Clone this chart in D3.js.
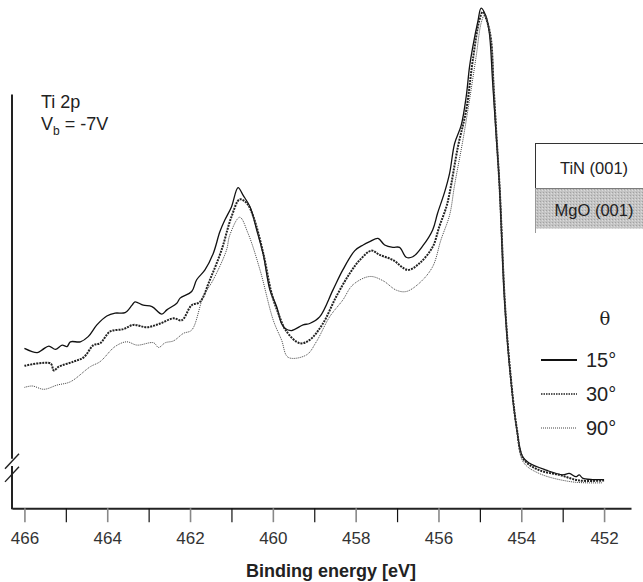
<!DOCTYPE html>
<html>
<head>
<meta charset="utf-8">
<script src="https://cdn.jsdelivr.net/npm/d3@7"></script>
<style>
  body { margin: 0; background: #fff; }
  svg { font-family: "Liberation Sans", Arial, sans-serif; }
</style>
</head>
<body>
<div id="chart"></div>
<script>
// Ti 2p XPS spectra, TiN(001) on MgO(001), Vb = -7V, three take-off angles

// binding energy [eV] and intensity (arb. units)
var energy15 = [466.0, 465.69, 465.57, 465.41, 465.25, 465.09, 464.97, 464.89, 464.65, 464.46, 464.25, 464.01, 463.81, 463.57, 463.40, 463.33, 463.13, 462.92, 462.68, 462.56, 462.32, 462.24, 461.96, 461.84, 461.64, 461.44, 461.28, 461.16, 461.00, 460.84, 460.72, 460.55, 460.39, 460.23, 460.07, 459.91, 459.79, 459.71, 459.55, 459.27, 459.11, 458.87, 458.55, 458.31, 458.02, 457.82, 457.66, 457.46, 457.30, 457.10, 456.94, 456.78, 456.62, 456.38, 456.14, 456.02, 455.85, 455.73, 455.61, 455.45, 455.33, 455.25, 455.17, 455.05, 454.97, 454.85, 454.77, 454.69, 454.61, 454.53, 454.41, 454.29, 454.13, 453.97, 453.81, 453.40, 453.00, 452.84, 452.68, 452.60, 452.52, 452.28, 452.0];
var int15 = [28.0, 27.1, 27.7, 28.5, 27.8, 28.7, 28.4, 29.4, 29.4, 30.5, 33.0, 34.9, 35.5, 35.6, 37.2, 37.9, 37.2, 36.9, 35.3, 36.2, 37.6, 38.7, 40.1, 42.6, 44.7, 48.2, 52.8, 55.3, 58.1, 62.2, 60.6, 58.1, 53.2, 47.9, 40.4, 36.9, 33.3, 32.3, 31.8, 33.0, 33.3, 34.7, 40.4, 44.7, 48.8, 50.0, 50.7, 51.4, 50.0, 49.5, 49.5, 47.4, 47.5, 49.8, 53.2, 56.8, 61.3, 65.3, 71.6, 75.5, 81.6, 87.9, 92.2, 97.5, 100.4, 98.6, 95.0, 84.4, 73.8, 63.1, 39.0, 24.8, 12.1, 5.0, 3.6, 2.1, 1.1, 1.4, 0.7, 1.1, 0.4, 0.1, 0.1];

var energy30 = [466.0, 465.37, 465.29, 465.17, 464.81, 464.57, 464.33, 464.17, 463.93, 463.61, 463.37, 463.04, 462.72, 462.40, 462.20, 461.96, 461.76, 461.52, 461.24, 461.00, 460.80, 460.63, 460.47, 460.23, 460.03, 459.87, 459.67, 459.35, 459.11, 458.79, 458.47, 458.14, 457.90, 457.62, 457.42, 457.10, 456.74, 456.46, 456.14, 455.98, 455.81, 455.73, 455.53, 455.33, 455.17, 455.01, 454.93, 454.82, 454.73, 454.67, 454.60, 454.52, 454.40, 454.28, 454.11, 453.95, 453.57, 453.08, 452.60, 452.0];
var int30 = [24.3, 24.8, 23.3, 24.1, 25.2, 26.1, 28.7, 29.1, 31.6, 32.1, 33.0, 32.5, 33.3, 34.4, 34.0, 37.2, 37.9, 42.6, 48.9, 56.0, 59.7, 58.9, 56.0, 48.2, 39.7, 35.5, 31.6, 29.1, 29.8, 33.3, 39.0, 44.0, 46.8, 48.8, 47.9, 46.8, 44.7, 46.1, 49.6, 53.9, 58.1, 61.1, 70.9, 78.7, 89.4, 97.9, 99.6, 97.4, 93.6, 84.0, 73.4, 61.7, 38.3, 24.3, 11.1, 4.5, 2.1, 1.1, -0.1, -0.1];

var energy90 = [466.0, 465.81, 465.53, 465.21, 464.89, 464.41, 464.17, 463.81, 463.53, 463.28, 462.88, 462.76, 462.60, 462.40, 462.16, 461.96, 461.68, 461.44, 461.12, 461.04, 460.80, 460.60, 460.31, 459.99, 459.79, 459.63, 459.19, 458.95, 458.63, 458.31, 458.07, 457.66, 457.34, 457.02, 456.78, 456.46, 456.14, 455.94, 455.73, 455.61, 455.41, 455.25, 455.09, 454.97, 454.89, 454.80, 454.72, 454.66, 454.59, 454.51, 454.39, 454.27, 454.10, 453.95, 453.57, 452.77, 452.05];
var int90 = [19.7, 20.0, 19.3, 20.2, 20.9, 24.1, 25.2, 28.4, 29.4, 28.7, 29.2, 28.2, 29.2, 29.6, 31.2, 31.9, 39.0, 42.6, 48.9, 52.1, 55.9, 52.5, 44.7, 34.0, 29.8, 26.1, 26.6, 29.4, 34.7, 38.3, 41.5, 43.3, 42.4, 40.4, 40.1, 41.9, 45.4, 51.1, 56.4, 62.8, 72.3, 80.9, 90.1, 97.2, 98.9, 96.8, 92.6, 83.4, 72.8, 61.1, 37.7, 23.4, 10.2, 3.8, 1.4, -0.4, -0.6];

var majorTicks = [466, 464, 462, 460, 458, 456, 454, 452];
var minorTicks = [465, 463, 461, 459, 457, 455, 453];
var angleLabels = ["15\u00b0", "30\u00b0", "90\u00b0"];
var layerLabels = ["TiN (001)", "MgO (001)"];

var series = [
  {e: energy15, v: int15, dash: null, w: 1.3, col: "#111", lw: 2, ldash: null},
  {e: energy30, v: int30, dash: "2,1", w: 2, col: "#222", lw: 1.4, ldash: "1.5,1"},
  {e: energy90, v: int90, dash: "1,1", w: 1, col: "#444", lw: 1, ldash: "1,1"}
];

var width = 643, height = 582;

var svg = d3.select("#chart").append("svg")
    .attr("width", width)
    .attr("height", height);

var x = d3.scaleLinear()
    .domain([466.3, 451.35])
    .range([12, 631]);

var y = d3.scaleLinear()
    .domain([0, 100])
    .range([480, 10]);

// x axis: gray labelled ticks every 2 eV, black ones in between
var xMajor = svg.append("g")
    .attr("transform", "translate(0," + y(-6) + ")")
    .call(d3.axisBottom(x).tickValues(majorTicks).tickSize(14).tickSizeOuter(0).tickPadding(10));
xMajor.select(".domain").attr("stroke", "#222").attr("stroke-width", 2);
xMajor.selectAll(".tick line").attr("stroke", "#888").attr("stroke-width", 1.6);
xMajor.selectAll(".tick text")
    .attr("fill", "#333")
    .style("font-size", "17px")
    .style("font-family", "Liberation Sans, Arial, sans-serif");

var xMinor = svg.append("g")
    .attr("transform", "translate(0," + y(-6) + ")")
    .call(d3.axisBottom(x).tickValues(minorTicks).tickSize(14).tickFormat(""));
xMinor.select(".domain").remove();
xMinor.selectAll(".tick line").attr("stroke", "#111").attr("stroke-width", 1.2);

svg.append("text")
    .attr("x", 331)
    .attr("y", 577)
    .attr("text-anchor", "middle")
    .style("font-weight", "bold")
    .style("font-size", "18px")
    .attr("fill", "#222")
    .text("Binding energy [eV]");

// y axis with break
var yAxis = svg.append("g").attr("stroke", "#222").attr("stroke-width", 2);
yAxis.append("line")
    .attr("x1", x(466.3)).attr("x2", x(466.3))
    .attr("y1", y(82)).attr("y2", y(4.5));
yAxis.append("line")
    .attr("x1", x(466.3)).attr("x2", x(466.3))
    .attr("y1", y(3)).attr("y2", y(-6) + 1);
yAxis.append("line")
    .attr("x1", 5).attr("x2", 19)
    .attr("y1", y(2.4)).attr("y2", y(5.6))
    .attr("stroke-width", 1.4);
yAxis.append("line")
    .attr("x1", 5).attr("x2", 19)
    .attr("y1", y(-0.4)).attr("y2", y(2.8))
    .attr("stroke-width", 1.4);

// spectra
var line = d3.line()
    .x(function(d) { return x(d[0]); })
    .y(function(d) { return y(d[1]); })
    .curve(d3.curveCatmullRom.alpha(0.5));

series.forEach(function(s) {
    var pts = s.e.map(function(e, i) { return [e, s.v[i]]; });
    svg.append("path")
        .datum(pts)
        .attr("fill", "none")
        .attr("stroke", s.col)
        .attr("stroke-width", s.w)
        .attr("stroke-dasharray", s.dash)
        .attr("d", line);
});

// annotation top-left
svg.append("text")
    .attr("x", 41)
    .attr("y", 108)
    .style("font-size", "18px")
    .attr("fill", "#222")
    .text("Ti 2p");
var vb = svg.append("text")
    .attr("x", 41)
    .attr("y", 130)
    .style("font-size", "18px")
    .attr("fill", "#222");
vb.append("tspan").text("V");
vb.append("tspan").attr("dy", 5).style("font-size", "12px").text("b");
vb.append("tspan").attr("dy", -5).text(" = -7V");

// layer stack inset
var defs = svg.append("defs");
var pat = defs.append("pattern")
    .attr("id", "stipple")
    .attr("width", 3).attr("height", 3)
    .attr("patternUnits", "userSpaceOnUse");
pat.append("rect").attr("width", 3).attr("height", 3).attr("fill", "#c4c4c4");
pat.append("rect").attr("width", 1).attr("height", 1).attr("fill", "#a2a2a2");
pat.append("rect").attr("x", 2).attr("y", 1).attr("width", 1).attr("height", 1).attr("fill", "#dcdcdc");

svg.append("rect")
    .attr("x", 535.5).attr("y", 143.5)
    .attr("width", 110).attr("height", 45)
    .attr("fill", "#fff")
    .attr("stroke", "#333").attr("stroke-width", 1);
svg.append("rect")
    .attr("x", 535.5).attr("y", 188.5)
    .attr("width", 110).attr("height", 40)
    .attr("fill", "url(#stipple)")
    .attr("stroke", "none");
svg.append("line")
    .attr("x1", 535.5).attr("x2", 535.5)
    .attr("y1", 188).attr("y2", 233)
    .attr("stroke", "#999");

layerLabels.forEach(function(t, i) {
    svg.append("text")
        .attr("x", 594)
        .attr("y", i === 0 ? 174 : 216)
        .attr("text-anchor", "middle")
        .style("font-size", "16.5px")
        .attr("fill", "#222")
        .text(t);
});

// legend
svg.append("text")
    .attr("x", 605)
    .attr("y", 325)
    .attr("text-anchor", "middle")
    .style("font-family", "DejaVu Serif, serif")
    .style("font-size", "18px")
    .attr("fill", "#222")
    .text("\u03b8");

series.forEach(function(s, i) {
    var ly = 360 + i * 34;
    svg.append("line")
        .attr("x1", 541).attr("x2", 577)
        .attr("y1", ly).attr("y2", ly)
        .attr("stroke", s.col)
        .attr("stroke-width", s.lw)
        .attr("stroke-dasharray", s.ldash);
    svg.append("text")
        .attr("x", 586)
        .attr("y", ly + 7)
        .style("font-size", "20px")
        .attr("fill", "#222")
        .text(angleLabels[i]);
});
</script>
</body>
</html>
